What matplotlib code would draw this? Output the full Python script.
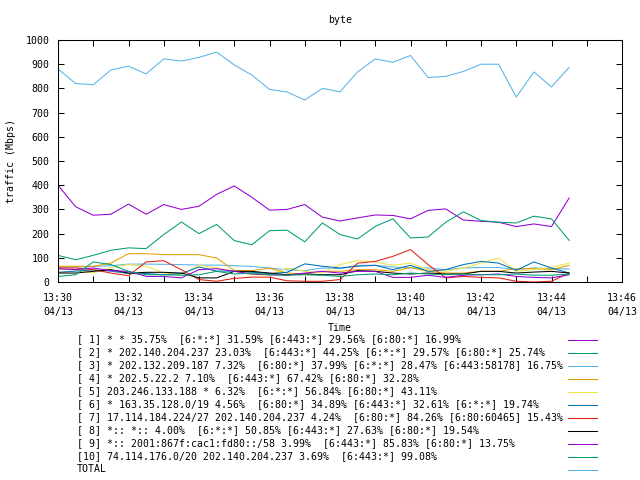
import matplotlib
matplotlib.use("Agg")
import matplotlib.pyplot as plt
import matplotlib.dates as mdates
from matplotlib.lines import Line2D
import pandas as pd

plt.rcParams['font.family'] = ['DejaVu Sans Mono']

title = "byte"
xlabel = "Time"
ylabel = "traffic (Mbps)"

times = pd.date_range("2024-04-13 13:30:00", periods=30, freq="30s")

s1 = [400, 311, 276, 280, 322, 280, 320, 300, 313, 362, 397, 350, 297, 300, 320,
      268, 252, 265, 277, 275, 261, 296, 302, 256, 251, 247, 229, 240, 229, 347]
s2 = [110, 92, 110, 131, 141, 138, 196, 248, 200, 238, 171, 154, 212, 214, 166,
      244, 196, 178, 230, 261, 182, 186, 247, 290, 254, 247, 244, 272, 261, 172]
s3 = [62, 62, 64, 67, 74, 74, 73, 72, 70, 70, 68, 64, 58, 50, 47,
      58, 55, 69, 69, 62, 58, 58, 51, 58, 60, 60, 51, 58, 55, 54]
s4 = [65, 65, 65, 78, 117, 117, 113, 113, 113, 99, 48, 47, 57, 37, 33,
      44, 44, 51, 51, 44, 60, 44, 37, 37, 44, 44, 55, 55, 51, 69]
s5 = [51, 51, 37, 60, 72, 65, 37, 30, 69, 58, 44, 30, 28, 58, 44,
      37, 72, 88, 83, 69, 78, 51, 44, 58, 78, 99, 44, 51, 60, 78]
s6 = [40, 45, 50, 45, 35, 35, 30, 35, 62, 45, 45, 40, 35, 40, 75,
      65, 58, 65, 69, 51, 69, 44, 51, 72, 85, 78, 48, 83, 58, 37]
s7 = [58, 58, 51, 37, 26, 83, 88, 51, 10, 3, 15, 20, 20, 5, 3,
      3, 10, 78, 85, 106, 134, 72, 17, 23, 19, 17, 3, 0, 3, 37]
s8 = [37, 37, 44, 51, 37, 40, 40, 37, 17, 17, 44, 44, 37, 30, 33,
      30, 30, 47, 44, 37, 33, 37, 33, 33, 44, 44, 37, 41, 44, 37]
s9 = [55, 51, 58, 47, 44, 23, 23, 17, 51, 55, 44, 33, 30, 28, 37,
      44, 37, 44, 44, 19, 19, 28, 19, 28, 30, 33, 23, 19, 17, 30]
s10 = [23, 30, 83, 72, 44, 30, 30, 28, 30, 44, 33, 37, 30, 28, 30,
       28, 23, 30, 33, 30, 37, 33, 30, 33, 30, 30, 33, 28, 28, 33]
total = [880, 820, 815, 876, 892, 860, 922, 913, 928, 950, 897, 855, 796, 785, 752,
         800, 786, 868, 922, 908, 936, 845, 850, 870, 900, 900, 764, 868, 806, 887]

labels = [
    "[ 1] * * 35.75%  [6:*:*] 31.59% [6:443:*] 29.56% [6:80:*] 16.99%",
    "[ 2] * 202.140.204.237 23.03%  [6:443:*] 44.25% [6:*:*] 29.57% [6:80:*] 25.74%",
    "[ 3] * 202.132.209.187 7.32%  [6:80:*] 37.99% [6:*:*] 28.47% [6:443:58178] 16.75%",
    "[ 4] * 202.5.22.2 7.10%  [6:443:*] 67.42% [6:80:*] 32.28%",
    "[ 5] 203.246.133.188 * 6.32%  [6:*:*] 56.84% [6:80:*] 43.11%",
    "[ 6] * 163.35.128.0/19 4.56%  [6:80:*] 34.89% [6:443:*] 32.61% [6:*:*] 19.74%",
    "[ 7] 17.114.184.224/27 202.140.204.237 4.24%  [6:80:*] 84.26% [6:80:60465] 15.43%",
    "[ 8] *:: *:: 4.00%  [6:*:*] 50.85% [6:443:*] 27.63% [6:80:*] 19.54%",
    "[ 9] *:: 2001:867f:cac1:fd80::/58 3.99%  [6:443:*] 85.83% [6:80:*] 13.75%",
    "[10] 74.114.176.0/20 202.140.204.237 3.69%  [6:443:*] 99.08%",
    "TOTAL",
]
series = [s1, s2, s3, s4, s5, s6, s7, s8, s9, s10, total]
colors = ["#9400D3", "#009E73", "#56B4E9", "#E69F00", "#F0E442", "#0072B2",
          "#E51E10", "#000000", "#9400D3", "#009E73", "#56B4E9"]

FS = 7.1
fig = plt.figure(figsize=(6.4, 4.8), dpi=100)
W, H = 640, 480
ax = fig.add_axes([58 / W, 1 - 282 / H, (622 - 58) / W, (282 - 40) / H])

for ys, c in zip(series, colors):
    ax.plot(times, ys, color=c, lw=0.75)

ax.set_xlim(pd.Timestamp("2024-04-13 13:30"), pd.Timestamp("2024-04-13 13:46"))
ax.set_ylim(0, 1000)
ax.set_yticks(range(0, 1001, 100))
ax.xaxis.set_major_locator(mdates.MinuteLocator(byminute=range(0, 60, 2)))
ax.xaxis.set_minor_locator(mdates.MinuteLocator())
ax.xaxis.set_major_formatter(mdates.DateFormatter("%H:%M\n%m/%d"))
ax.tick_params(which='both', direction='in', top=True, right=True,
               length=4, width=0.75, labelsize=FS)
ax.tick_params(axis='x', pad=8)
ax.tick_params(axis='y', pad=6)
for lab in ax.get_xticklabels():
    lab.set_linespacing(1.45)
for sp in ax.spines.values():
    sp.set_linewidth(0.75)

fig.text(340 / W, 1 - 20 / H, title, ha='center', va='center', fontsize=FS)
fig.text(340 / W, 1 - 328 / H, xlabel, ha='center', va='center', fontsize=FS)
fig.text(11 / W, 1 - 161 / H, ylabel, ha='center', va='center', rotation=90, fontsize=FS)

for i, (lab, c) in enumerate(zip(labels, colors)):
    y = 1 - (339.5 + 13 * i) / H
    fig.text(77 / W, y, lab, ha='left', va='center', fontsize=FS)
    fig.add_artist(Line2D([568 / W, 597 / W], [y, y], color=c, lw=0.75,
                          transform=fig.transFigure))

fig.savefig("out.png", dpi=100)
